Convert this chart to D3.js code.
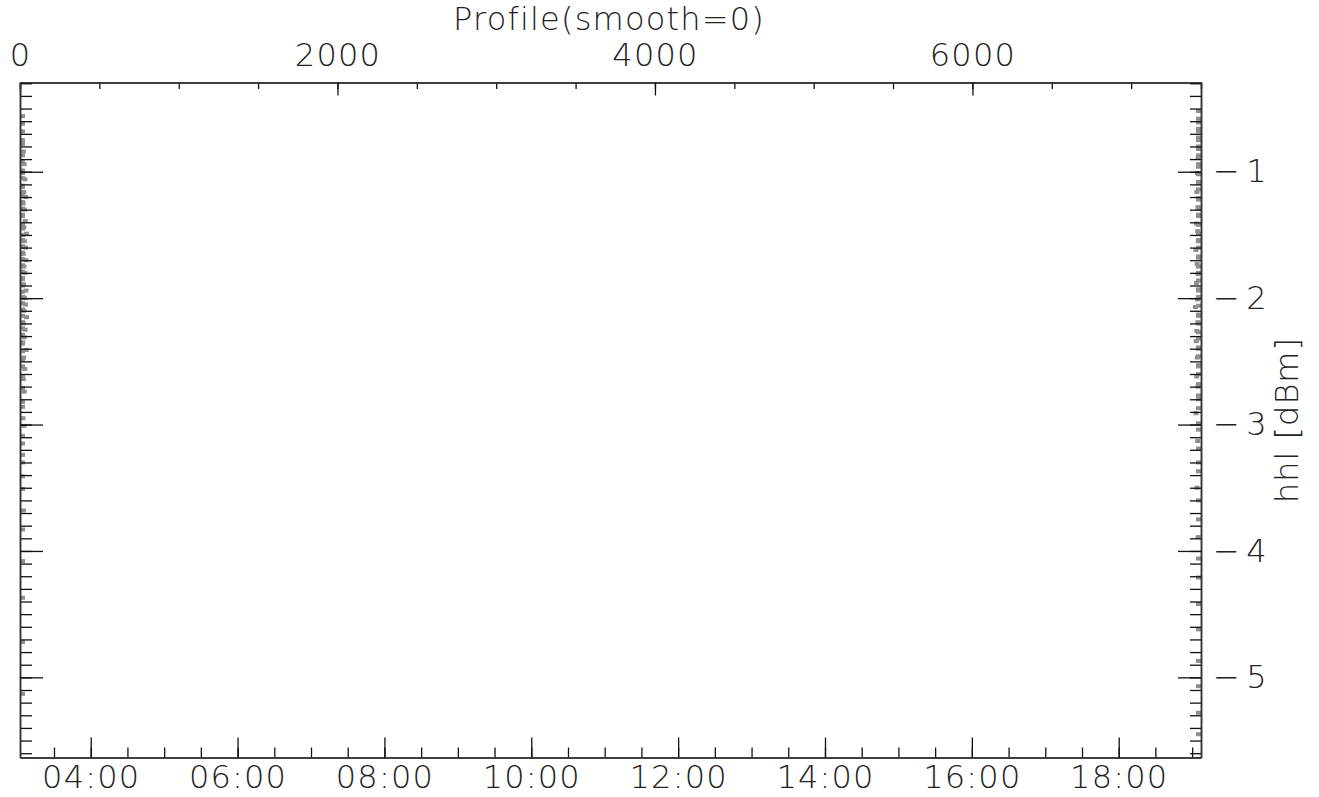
<!DOCTYPE html>
<html>
<head>
<meta charset="utf-8">
<script src="https://cdn.jsdelivr.net/npm/d3@7"></script>
<style>
  html, body { margin: 0; padding: 0; background: #fff; }
  svg text { font-family: "DejaVu Sans", "Liberation Sans", sans-serif; font-weight: 200; fill: #222; }
</style>
</head>
<body>
<svg id="chart" width="1319" height="797"></svg>
<script>
// Axis ranges
const profileRange = [0, 7440];
const timeRange = ["03:02:13", "19:07:15"];
const levelRange = [-0.294, -5.634];
const profileTicks = [0, 2000, 4000, 6000];
const levelTicks = [-1, -2, -3, -4, -5];

// Samples at the start of the profile
const leftIdx = [2, 9, 5, 14, 3, 21, 7, 11, 26, 4,
  17, 1, 31, 8, 13, 23, 6, 36, 10, 19,
  3, 28, 15, 5, 33, 12, 24, 8, 40, 18,
  2, 27, 11, 35, 6, 20, 14, 38, 9, 25,
  4, 30, 16, 7, 22, 13, 37, 1, 19, 29,
  10, 34, 5, 24, 15, 41, 8, 21, 12, 32,
  3, 26, 17, 6, 39, 11, 23, 2, 16, 30,
  9, 20, 4, 27, 13, 7, 18, 25, 3, 11,
  6, 15, 2, 9, 22, 4, 12, 7, 3, 10];
const leftVal = [-0.56, -0.62, -0.68, -0.75, -0.78, -0.84, -0.87, -0.92, -0.94, -0.99,
  -1.01, -1.05, -1.06, -1.11, -1.12, -1.16, -1.19, -1.20, -1.24, -1.25,
  -1.29, -1.30, -1.34, -1.35, -1.39, -1.42, -1.44, -1.45, -1.49, -1.50,
  -1.54, -1.55, -1.59, -1.60, -1.64, -1.65, -1.69, -1.70, -1.74, -1.75,
  -1.79, -1.80, -1.84, -1.85, -1.89, -1.90, -1.94, -1.95, -1.99, -2.00,
  -2.04, -2.05, -2.09, -2.10, -2.14, -2.15, -2.19, -2.20, -2.24, -2.25,
  -2.29, -2.31, -2.35, -2.36, -2.41, -2.42, -2.47, -2.49, -2.54, -2.56,
  -2.62, -2.64, -2.71, -2.74, -2.82, -2.86, -2.95, -3.01, -3.09, -3.15,
  -3.24, -3.30, -3.41, -3.51, -3.68, -3.83, -4.08, -4.37, -4.72, -5.13];

// Samples at the end of the profile
const rightIdx = [7438, 7431, 7436, 7427, 7440, 7433, 7424, 7437, 7429, 7439,
  7422, 7434, 7430, 7418, 7436, 7426, 7440, 7432, 7414, 7437,
  7428, 7421, 7435, 7439, 7425, 7411, 7433, 7419, 7438, 7430,
  7423, 7436, 7408, 7427, 7440, 7416, 7434, 7429, 7421, 7437,
  7412, 7431, 7439, 7425, 7418, 7435, 7405, 7428, 7438, 7420,
  7432, 7414, 7440, 7426, 7410, 7436, 7423, 7430, 7417, 7439,
  7433, 7427, 7413, 7437, 7421, 7431, 7440, 7424, 7409, 7435,
  7429, 7419, 7438, 7426, 7433, 7415, 7439, 7430, 7422, 7436,
  7434, 7427, 7438, 7431, 7436, 7429, 7437];
const rightVal = [-0.52, -0.58, -0.61, -0.66, -0.68, -0.73, -0.75, -0.80, -0.82, -0.87,
  -0.89, -0.94, -0.96, -1.01, -1.02, -1.08, -1.09, -1.14, -1.16, -1.21,
  -1.22, -1.28, -1.29, -1.34, -1.35, -1.41, -1.42, -1.47, -1.49, -1.54,
  -1.55, -1.60, -1.62, -1.67, -1.68, -1.73, -1.75, -1.80, -1.81, -1.86,
  -1.88, -1.93, -1.94, -1.99, -2.01, -2.06, -2.07, -2.13, -2.14, -2.19,
  -2.20, -2.26, -2.27, -2.32, -2.34, -2.39, -2.40, -2.46, -2.47, -2.53,
  -2.54, -2.60, -2.62, -2.68, -2.70, -2.77, -2.80, -2.87, -2.91, -2.99,
  -3.04, -3.13, -3.19, -3.30, -3.37, -3.50, -3.60, -3.75, -3.89, -4.06,
  -4.21, -4.42, -4.62, -4.87, -5.07, -5.28, -5.45];

const svg = d3.select('#chart');
const plotLeft = 20, plotRight = 1201, plotTop = 82.5, plotBottom = 757.5;
const parseTime = d3.utcParse('%H:%M:%S');

const x = d3.scaleLinear().domain(profileRange).range([plotLeft, plotRight]);
const t = d3.scaleUtc().domain(timeRange.map(parseTime)).range([plotLeft, plotRight]);
const y = d3.scaleLinear().domain(levelRange).range([plotTop, plotBottom]);

// points, kept inside the frame
const points = leftIdx.map((d, i) => [d, leftVal[i]])
  .concat(rightIdx.map((d, i) => [d, rightVal[i]]));
svg.append('g')
  .selectAll('rect')
  .data(points)
  .enter()
  .append('rect')
  .attr('x', d => Math.min(plotRight - 5, Math.max(plotLeft, x(d[0]) - 2.5)))
  .attr('y', d => y(d[1]) - 2)
  .attr('width', 5)
  .attr('height', 4)
  .attr('fill', '#8f8f8f');

function styleAxis(g) {
  g.select('.domain').attr('stroke', '#333').attr('stroke-width', 1.5);
  g.selectAll('.tick line').attr('stroke', '#111').attr('stroke-width', 1.3);
  g.selectAll('text').attr('font-size', 32).attr('font-family', null)
    .attr('fill', '#222').attr('letter-spacing', 1.2);
}

const halfHours = d3.utcMinute.every(30).range(t.domain()[0], t.domain()[1]);
const twoHours = d3.utcHour.every(2).range(t.domain()[0], t.domain()[1]);

// top axis: profile number
svg.append('g')
  .attr('transform', `translate(0,${plotTop})`)
  .call(d3.axisTop(x).tickValues(d3.range(0, profileRange[1], 500)).tickSize(-6.5).tickFormat(''))
  .call(styleAxis);
svg.append('g')
  .attr('transform', `translate(0,${plotTop})`)
  .call(d3.axisTop(x).tickValues(profileTicks).tickSize(-13).tickSizeOuter(0).tickPadding(16.5).tickFormat(d3.format('d')))
  .call(styleAxis);

// bottom axis: time of day
svg.append('g')
  .attr('transform', `translate(0,${plotBottom})`)
  .call(d3.axisBottom(t).tickValues(halfHours).tickSize(-10).tickSizeOuter(0).tickFormat(''))
  .call(styleAxis);
svg.append('g')
  .attr('transform', `translate(0,${plotBottom})`)
  .call(d3.axisBottom(t).tickValues(twoHours).tickSize(-20).tickSizeOuter(0).tickPadding(8).tickFormat(d3.utcFormat('%H:%M')))
  .call(styleAxis);

// left axis, ticks only
const tenths = d3.range(-0.3, -5.65, -0.1).map(v => Math.round(v * 10) / 10);
svg.append('g')
  .attr('transform', `translate(${plotLeft},0)`)
  .call(d3.axisLeft(y).tickValues(tenths).tickSize(-12).tickSizeOuter(0).tickFormat(''))
  .call(styleAxis);
svg.append('g')
  .attr('transform', `translate(${plotLeft},0)`)
  .call(d3.axisLeft(y).tickValues(levelTicks).tickSize(-23).tickSizeOuter(0).tickFormat(''))
  .call(styleAxis);

// right axis with labels
svg.append('g')
  .attr('transform', `translate(${plotRight},0)`)
  .call(d3.axisRight(y).tickValues(tenths).tickSize(-11).tickSizeOuter(0).tickFormat(''))
  .call(styleAxis);
svg.append('g')
  .attr('transform', `translate(${plotRight},0)`)
  .call(d3.axisRight(y).tickValues(levelTicks).tickSize(-23).tickSizeOuter(0).tickPadding(12).tickFormat(d => '\u2212\u2009' + Math.abs(d)))
  .call(styleAxis)
  .call(g => g.selectAll('text').attr('letter-spacing', 0));

// titles
svg.append('text')
  .attr('x', 609)
  .attr('y', 30)
  .attr('text-anchor', 'middle')
  .attr('font-size', 32)
  .attr('letter-spacing', 1.2)
  .text('Profile(smooth=0)');

svg.append('text')
  .attr('transform', `translate(1298,${(plotTop + plotBottom) / 2}) rotate(-90)`)
  .attr('text-anchor', 'middle')
  .attr('font-size', 32)
  .attr('letter-spacing', 1)
  .text('hhl [dBm]');
</script>
</body>
</html>
